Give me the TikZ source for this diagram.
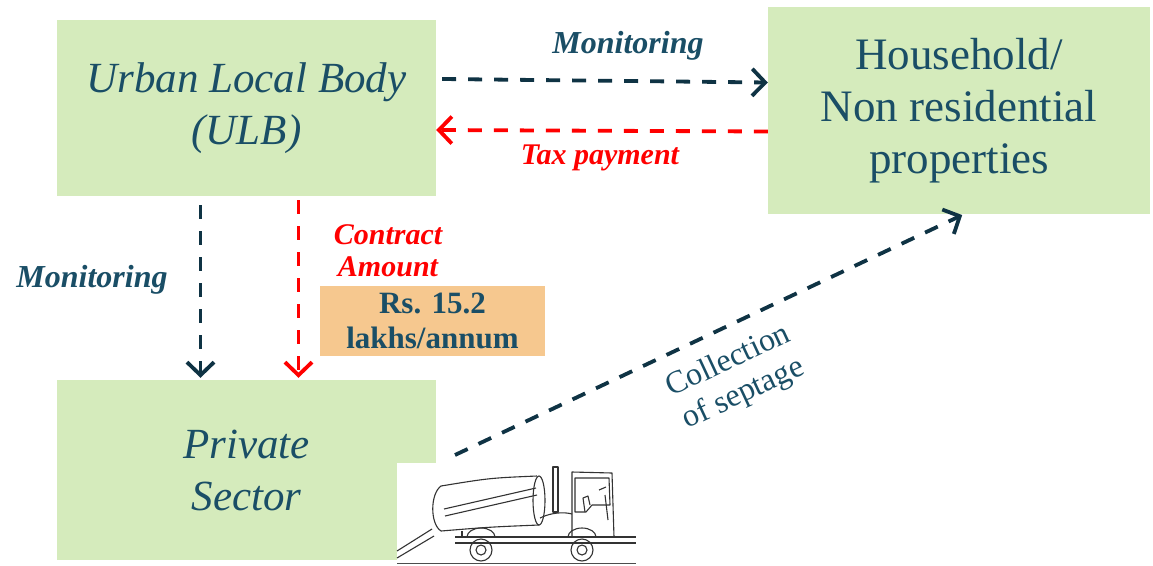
\documentclass[tikz,border=0pt]{standalone}
\usepackage{fontspec}
\setmainfont{Liberation Serif}
\usetikzlibrary{arrows.meta}

\definecolor{boxgreen}{HTML}{D5EBBC}
\definecolor{amtorange}{HTML}{F6C88F}
\definecolor{tealtext}{HTML}{1A4E66}
\definecolor{darkline}{HTML}{0F3344}
\definecolor{payred}{HTML}{FF0000}

\begin{document}
\begin{tikzpicture}[x=1pt,y=-1pt,
 party/.style={rectangle,fill=boxgreen,text=tealtext,align=center,inner sep=0pt,font=\fontsize{43}{52}\selectfont},
 amount/.style={rectangle,fill=amtorange,text=tealtext,align=center,inner sep=0pt,font=\fontsize{31}{35}\selectfont\bfseries},
 lbl/.style={text=tealtext,font=\fontsize{32}{32}\selectfont\bfseries\itshape},
 redlbl/.style={text=payred,font=\fontsize{30}{32}\selectfont\bfseries\itshape,align=center},
 flow/.style={line width=3.8pt,dash pattern=on 14pt off 12pt,-{Straight Barb[length=13pt,width=27pt,line width=3.8pt]}},
 mon/.style={flow,draw=darkline},
 pay/.style={flow,draw=payred},
 truckline/.style={draw=black!80,line width=1.1pt,line join=round}]
\useasboundingbox (0,0) rectangle (1153,565);

% the three parties
\node[party,minimum width=379pt,minimum height=176pt] (ulb) at (246.5,108) {\itshape Urban Local Body\\\itshape (ULB)};
\node[party,minimum width=382pt,minimum height=207pt,font=\fontsize{45}{52}\selectfont] (house) at (959,110.5) {Household/\\Non residential\\properties};
\node[party,minimum width=379pt,minimum height=180pt] (pvt) at (246.5,470) {\itshape Private\\\itshape Sector};
\node[amount,minimum width=225pt,minimum height=70pt] (amt) at (432.5,321) {Rs. 15.2\\lakhs/annum};

% flows between the parties
\draw[mon] ([xshift=6pt,yshift=29pt]ulb.east) -- ([yshift=28pt]house.west);
\draw[pay] ([yshift=-21pt]house.west) -- ([yshift=-22pt]ulb.east);
\draw[mon,shorten <=9pt,shorten >=2pt] ([xshift=-46pt]ulb.south) -- ([xshift=-46pt]pvt.north);
\draw[pay,shorten <=4pt,shorten >=2pt] ([xshift=52pt]ulb.south) -- ([xshift=52pt]pvt.north);

\node[lbl] (mtop) at (628,46) {Monitoring};
\node[redlbl] (tax) at (600,158) {Tax payment};
\node[lbl] (mside) at (92,280) {Monitoring};
\node[redlbl] (contract) at (388,251) {Contract\\Amount};

% vacuum tanker
\fill[white] (397,463) rectangle (636,565);
\coordinate (truck) at (455,455);
\draw[truckline] (441,486) .. controls (490,478) .. (537,476);
\draw[truckline] (441,531) .. controls (490,527) .. (539,525);
\draw[truckline] (441,486) .. controls (430,494) and (430,524) .. (441,531);
\draw[truckline] (539,500.5) ellipse (6 and 24.5);
\draw[truckline] (444,509) -- (536,488) (445,516) -- (537,495);
\draw[truckline] (397,551) -- (432,529) (397,558) -- (434,536);
\draw[truckline] (455,537) -- (636,537) (455,543) -- (636,543);
\draw[truckline] (462,537) -- (462,531);
\draw[truckline] (553,467) rectangle (558,512);
\draw[truckline] (540,518) .. controls (552,512) and (565,512) .. (572,514);
\draw[truckline] (572,537) -- (572,472) -- (612,473) -- (614,537);
\draw[truckline] (575,478) -- (609,478) -- (610,505) -- (592,505) -- (586,512) -- (575,512) -- cycle;
\draw[truckline] (585,512) -- (583,498) -- (588,496) -- (590,505);
\draw[truckline] (599,490) -- (606,487) (605,495) -- (608,520);
\draw[truckline] (467,537) arc (180:360:14 and 9);
\draw[truckline] (568,537) arc (180:360:14 and 9);
\draw[truckline] (481,550) circle (11) (481,550) circle (5);
\draw[truckline] (582,550) circle (11) (582,550) circle (5);
\draw[draw=black!70,line width=0.8pt] (397,563) -- (636,563);

% septage goes to the households
\draw[mon,shorten >=2pt] (truck) -- ([xshift=-1pt]house.south west -| 965,214);
\node[text=tealtext,font=\fontsize{32}{36}\selectfont,align=center,rotate=25] (septage) at (736,378) {Collection\\of septage};
\end{tikzpicture}
\end{document}
